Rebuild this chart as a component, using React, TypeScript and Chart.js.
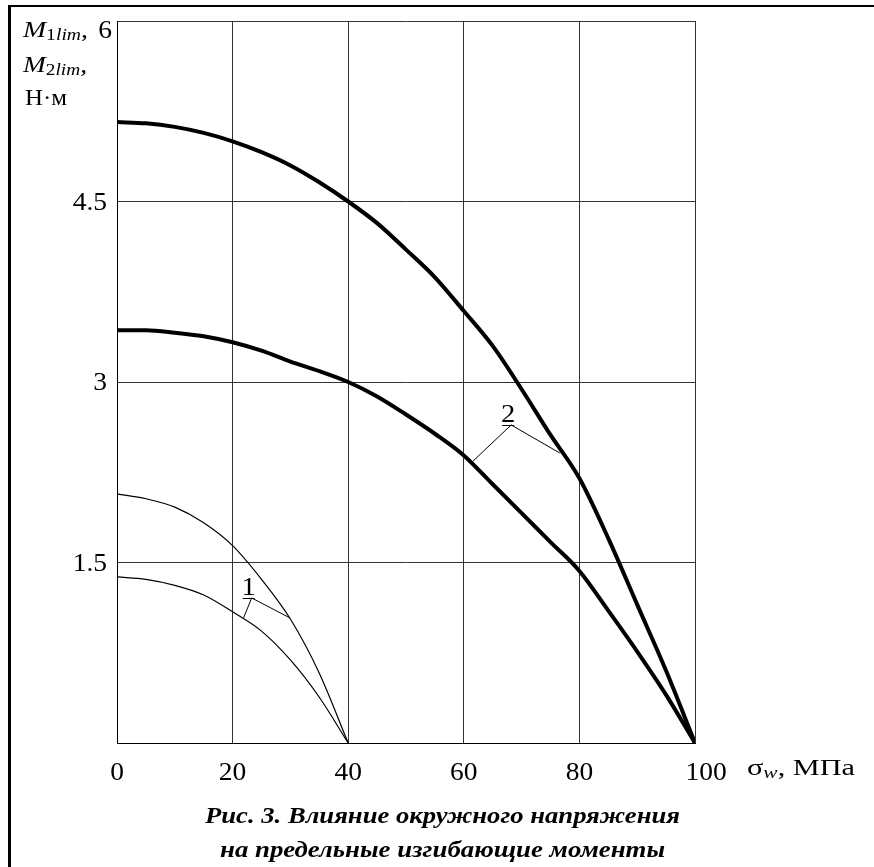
import React, { useEffect, useRef } from "react";
import { Chart, registerables } from "chart.js";

Chart.register(...registerables);

// ---- data ----
const SIGMA_2 = [0, 5, 10, 15, 20, 25, 30, 35, 40, 45, 50, 55, 60, 65, 70, 75, 80, 85, 90, 95, 100];
const M_UPPER_2 = [5.16, 5.15, 5.12, 5.07, 5.0, 4.91, 4.8, 4.66, 4.5, 4.32, 4.1, 3.87, 3.59, 3.3, 2.94, 2.56, 2.2, 1.7, 1.15, 0.6, 0];
const M_LOWER_2 = [3.43, 3.43, 3.41, 3.38, 3.33, 3.26, 3.17, 3.09, 3.0, 2.88, 2.73, 2.57, 2.39, 2.15, 1.91, 1.67, 1.43, 1.1, 0.76, 0.4, 0];

const SIGMA_1 = [0, 5, 10, 15, 20, 25, 30, 35, 40];
const M_UPPER_1 = [2.07, 2.03, 1.96, 1.83, 1.64, 1.36, 1.03, 0.58, 0];
const M_LOWER_1 = [1.38, 1.36, 1.31, 1.23, 1.09, 0.93, 0.69, 0.38, 0];

// leader lines: [end on upper curve, label anchor, end on lower curve]
const LEADER_1_X = [29.9, 23.3, 21.9];
const LEADER_1_Y = [1.04, 1.205, 1.04];
const LEADER_2_X = [76.6, 68.2, 61.6];
const LEADER_2_Y = [2.41, 2.643, 2.343];

const X_TICKS = [0, 20, 40, 60, 80, 100];
const Y_TICKS = [1.5, 3, 4.5, 6];
const Y_TICK_LABELS = ["1.5", "3", "4.5", "6"];

const CAPTION_1 = "Рис. 3. Влияние окружного напряжения";
const CAPTION_2 = "на предельные изгибающие моменты";

const SERIF = '"Liberation Serif", "Times New Roman", "DejaVu Serif", serif';

const pts = (xs: number[], ys: number[]) => xs.map((x, i) => ({ x, y: ys[i] }));

type Part = { t: string; f: string; dy?: number };

function drawRun(
  ctx: CanvasRenderingContext2D,
  x: number,
  y: number,
  parts: Part[],
  align: "left" | "center" | "right",
  width?: number,
  hs = 1
) {
  ctx.save();
  ctx.textBaseline = "alphabetic";
  ctx.textAlign = "left";
  let w = 0;
  const ws = parts.map((p) => {
    ctx.font = p.f;
    const m = ctx.measureText(p.t).width;
    w += m;
    return m;
  });
  const s = width ? width / w : hs;
  const total = w * s;
  const sx = align === "left" ? x : align === "center" ? x - total / 2 : x - total;
  ctx.translate(sx, y);
  ctx.scale(s, 1);
  let cx = 0;
  parts.forEach((p, i) => {
    ctx.font = p.f;
    ctx.fillStyle = "#000";
    ctx.fillText(p.t, cx, p.dy || 0);
    cx += ws[i];
  });
  ctx.restore();
}

const decorPlugin = {
  id: "decor",
  afterDraw(chart: any) {
    const ctx: CanvasRenderingContext2D = chart.ctx;
    const xs = chart.scales.x;
    const ys = chart.scales.y;
    ctx.save();
    // outer frame (top & left)
    ctx.fillStyle = "#000";
    ctx.fillRect(8, 5, 874 - 8, 2);
    ctx.fillRect(8, 5, 3, 867 - 5);

    const num = `25px ${SERIF}`;
    const bigR = `24px ${SERIF}`;
    const bigI = `italic 24px ${SERIF}`;
    const sub = `17px ${SERIF}`;
    const subI = `italic 17px ${SERIF}`;
    const HS = 1.1;

    // y tick labels
    Y_TICKS.forEach((v, i) => {
      const py = ys.getPixelForValue(v);
      const t = Y_TICK_LABELS[i];
      if (v === 6) drawRun(ctx, 112, py + 17, [{ t, f: num }], "right", undefined, HS);
      else drawRun(ctx, 107, py + 8, [{ t, f: num }], "right", undefined, HS);
    });
    // x tick labels
    X_TICKS.forEach((v) => {
      const px = xs.getPixelForValue(v) + (v === 100 ? 11 : 0);
      drawRun(ctx, px, 780, [{ t: String(v), f: num }], "center", undefined, HS);
    });

    // y axis title
    drawRun(ctx, 23, 37, [{ t: "M", f: bigI }, { t: "1", f: sub, dy: 3 }, { t: "lim", f: subI, dy: 3 }, { t: ",", f: bigI }], "left", 65);
    drawRun(ctx, 23, 72, [{ t: "M", f: bigI }, { t: "2", f: sub, dy: 3 }, { t: "lim", f: subI, dy: 3 }, { t: ",", f: bigI }], "left", 64);
    drawRun(ctx, 25, 105, [{ t: "Н·м", f: bigR }], "left", 42);

    // x axis title
    drawRun(ctx, 747, 775, [{ t: "σ", f: bigR }, { t: "w", f: subI, dy: 3 }, { t: ", МПа", f: bigR }], "left", 108);

    // caption
    const cap = `bold italic 24px ${SERIF}`;
    drawRun(ctx, 442.5, 823, [{ t: CAPTION_1, f: cap }], "center", 475);
    drawRun(ctx, 442.5, 857, [{ t: CAPTION_2, f: cap }], "center", 445);

    // curve labels with underline
    const labels = [
      { t: "1", x: LEADER_1_X[1], y: LEADER_1_Y[1] },
      { t: "2", x: LEADER_2_X[1], y: LEADER_2_Y[1] },
    ];
    labels.forEach((l) => {
      const ax = xs.getPixelForValue(l.x);
      const ay = ys.getPixelForValue(l.y);
      drawRun(ctx, ax - 3, ay - 3, [{ t: l.t, f: `26px ${SERIF}` }], "center", undefined, 1.1);
      ctx.strokeStyle = "#000";
      ctx.lineWidth = 1;
      ctx.beginPath();
      ctx.moveTo(ax - 9, Math.round(ay) + 0.5);
      ctx.lineTo(ax + 3, Math.round(ay) + 0.5);
      ctx.stroke();
    });
    ctx.restore();
  },
};

export default function App() {
  const ref = useRef<HTMLCanvasElement>(null);
  useEffect(() => {
    const thick = { borderColor: "#000", borderWidth: 4, pointRadius: 0, showLine: true, cubicInterpolationMode: "monotone" as const, borderJoinStyle: "round" as const };
    const thin = { borderColor: "#000", borderWidth: 1.2, pointRadius: 0, showLine: true, cubicInterpolationMode: "monotone" as const };
    const leader = { borderColor: "#000", borderWidth: 1, pointRadius: 0, showLine: true, tension: 0 };
    const chart = new Chart(ref.current!, {
      type: "scatter",
      data: {
        datasets: [
          { label: "M upper 2", data: pts(SIGMA_2, M_UPPER_2), ...thick },
          { label: "M lower 2", data: pts(SIGMA_2, M_LOWER_2), ...thick },
          { label: "M upper 1", data: pts(SIGMA_1, M_UPPER_1), ...thin },
          { label: "M lower 1", data: pts(SIGMA_1, M_LOWER_1), ...thin },
          { label: "leader 1", data: pts(LEADER_1_X, LEADER_1_Y), ...leader },
          { label: "leader 2", data: pts(LEADER_2_X, LEADER_2_Y), ...leader },
        ],
      },
      options: {
        responsive: false,
        animation: false,
        layout: { padding: { left: 117, top: 21, right: 179, bottom: 124 } },
        plugins: { legend: { display: false }, tooltip: { enabled: false } },
        scales: {
          x: {
            type: "linear",
            min: 0,
            max: 100,
            ticks: { display: false, stepSize: 20 },
            grid: { color: "#333", lineWidth: 1, drawTicks: false },
            border: { color: "#000", width: 1 },
          },
          y: {
            type: "linear",
            min: 0,
            max: 6,
            ticks: { display: false, stepSize: 1.5 },
            grid: { color: "#333", lineWidth: 1, drawTicks: false },
            border: { color: "#000", width: 1 },
          },
        },
      },
      plugins: [decorPlugin],
    });
    return () => chart.destroy();
  }, []);
  return (
    <div style={{ position: "fixed", left: 0, top: 0, width: 874, height: 867, background: "#fff" }}>
      <canvas ref={ref} width={874} height={867} style={{ display: "block", width: 874, height: 867 }} />
    </div>
  );
}
